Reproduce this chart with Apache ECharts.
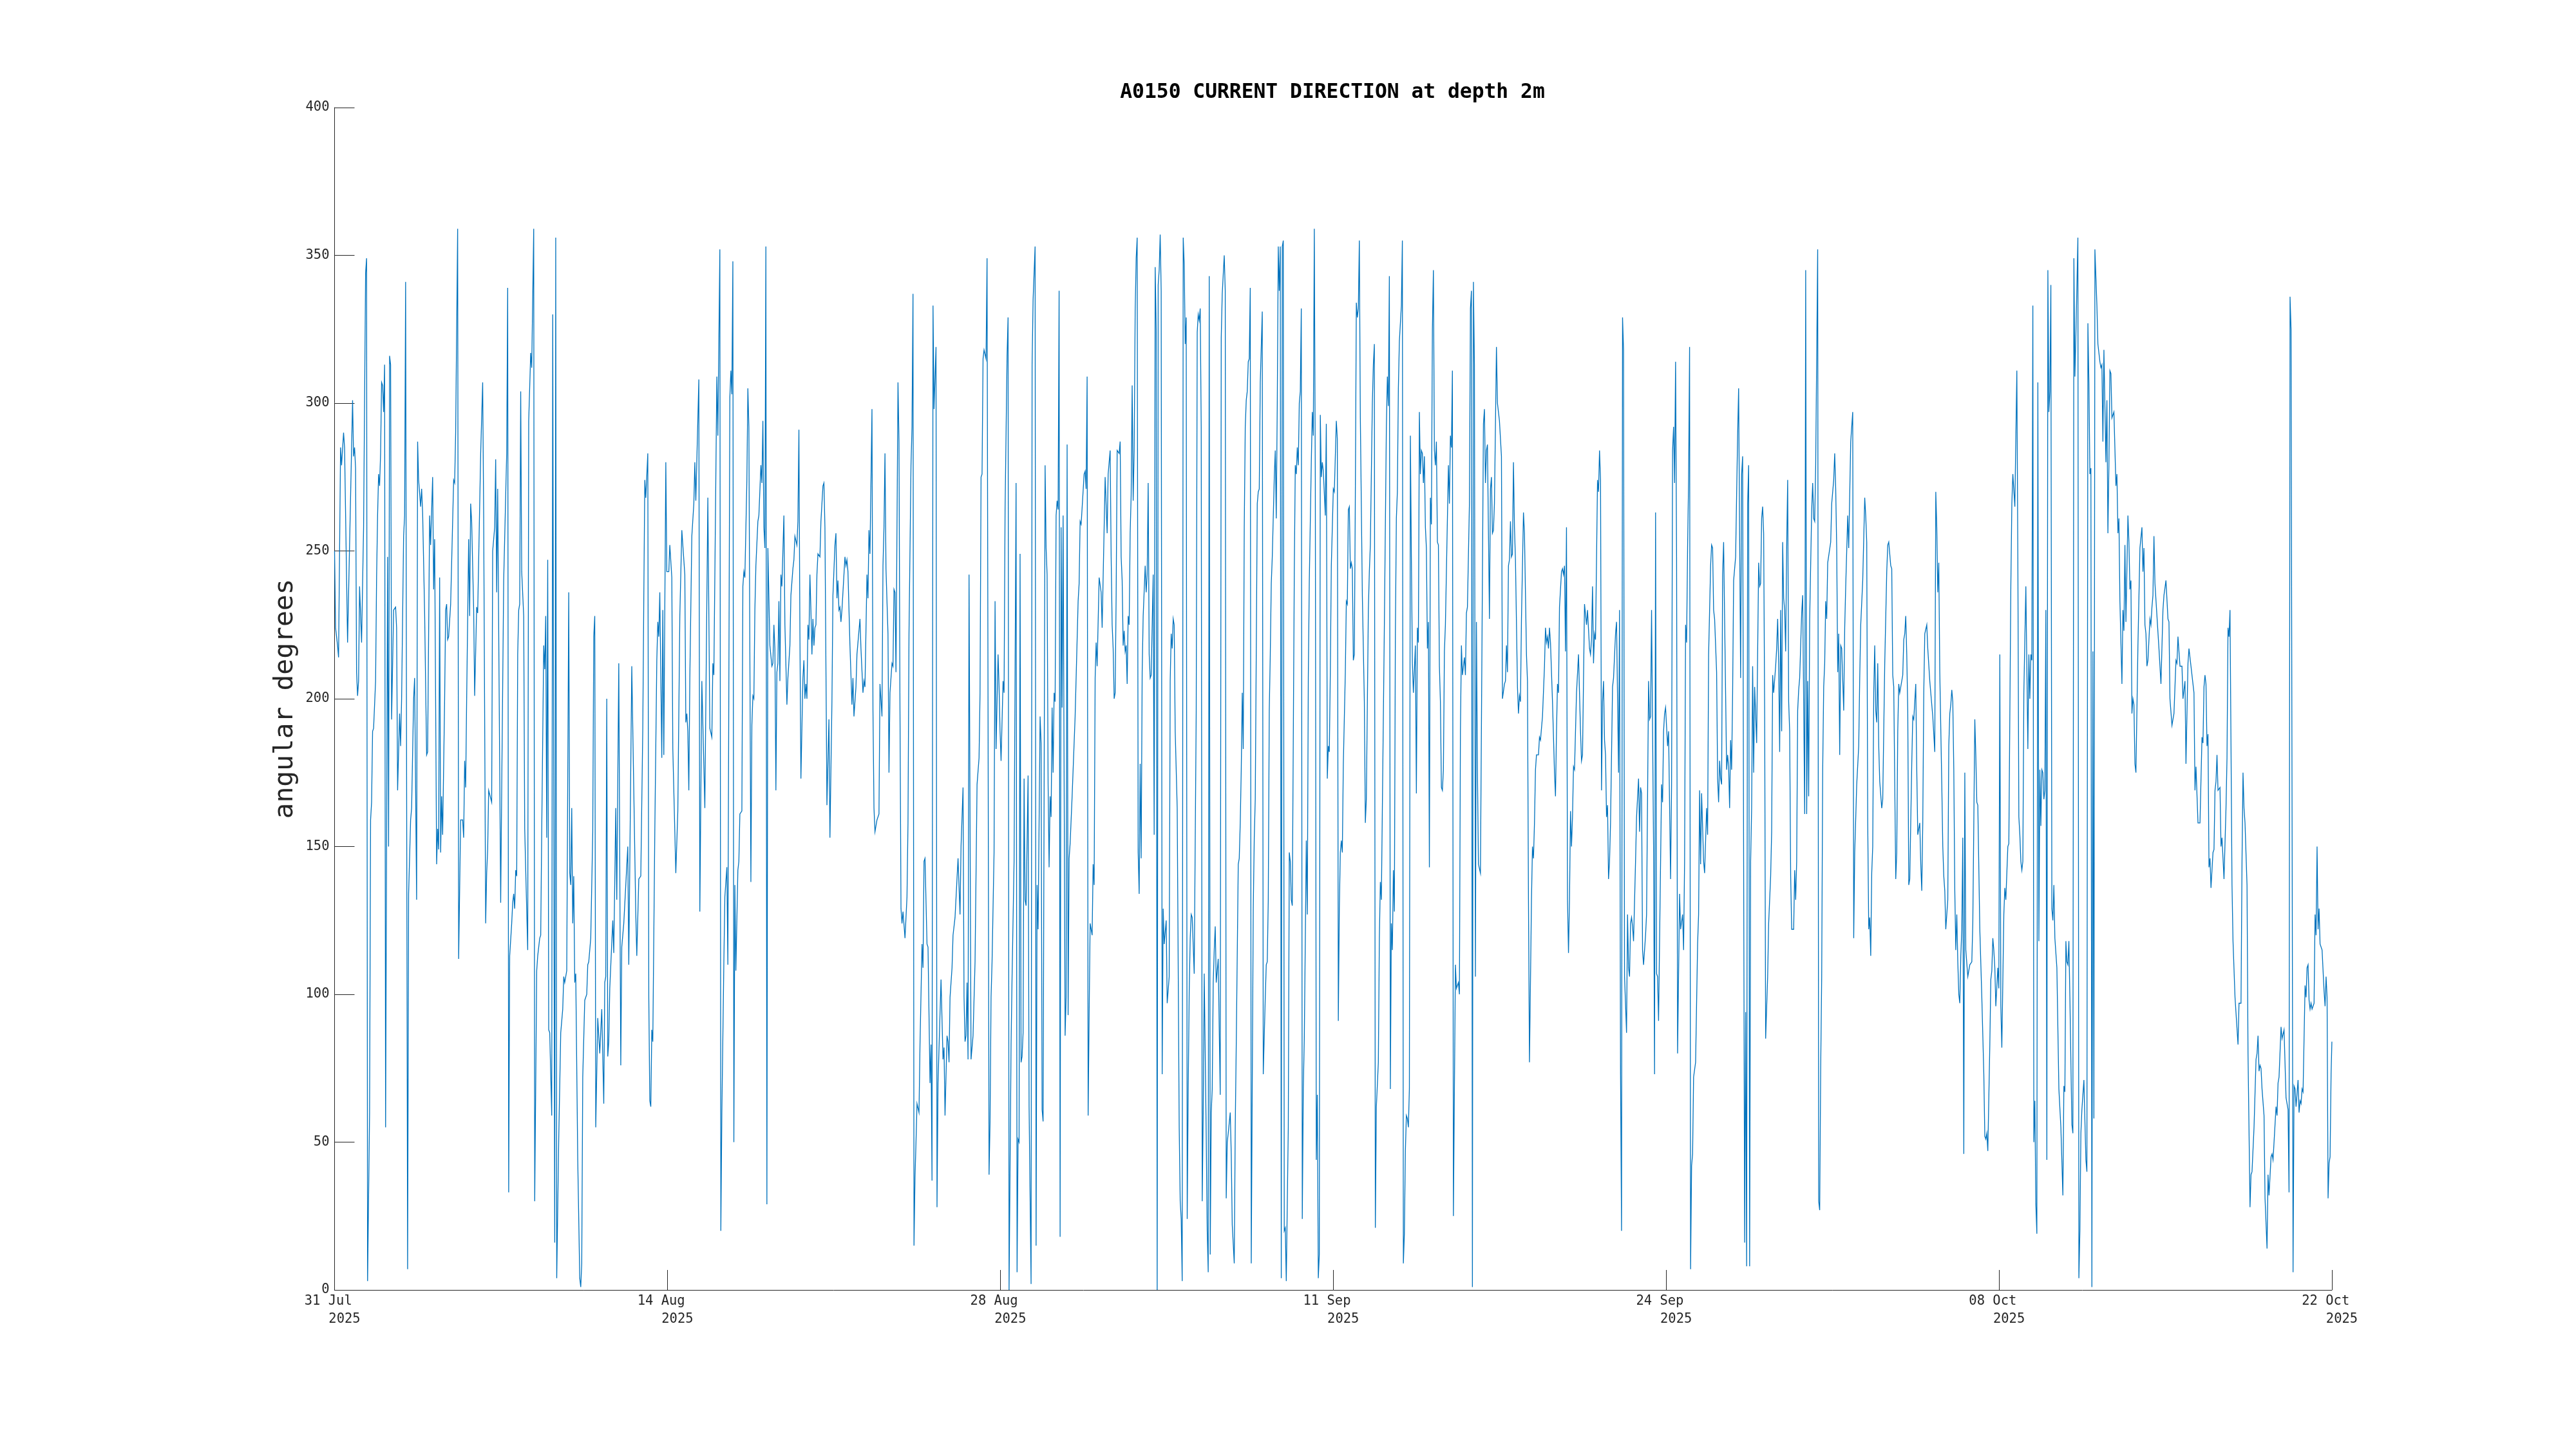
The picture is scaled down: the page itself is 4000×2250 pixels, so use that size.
<!DOCTYPE html>
<html>
<head>
<meta charset="utf-8">
<style>html,body{margin:0;padding:0;background:#fff}#c{width:4000px;height:2250px}</style>
<script src="https://cdn.jsdelivr.net/npm/echarts@6/dist/echarts.min.js"></script>
</head>
<body>
<div id="c"></div>
<script>
// Current direction readings as [hours since axis start, degrees]
const periodA = [[0,250],[1,224],[3,218],[4,214],[6,285],[7,279],[9,290],[10,285],[13,219],[18,301],[19,282],[20,285],[21,278],[22,209],[23,201],[24,206],[25,238],[27,219],[29,258],[31,344],[32,349],[33,3],[35,60],[36,159],[37,165],[38,189],[39,190],[41,206],[42,241],[43,262],[44,276],[45,272],[46,283],[47,307],[48,306],[49,297],[50,313],[51,55],[53,248],[54,150],[55,316],[56,313],[57,193],[59,230],[61,231],[62,224],[63,169],[65,195],[66,184],[67,200],[69,255],[70,262],[71,341],[73,7],[74,134],[76,159],[77,163],[79,200],[80,207],[82,132],[83,287],[84,274],[86,265],[87,271],[88,263],[90,229],[92,181],[93,182],[95,262],[96,252],[98,275],[99,237],[100,254],[102,144],[103,156],[104,149],[105,241],[106,148],[107,167],[108,154],[110,200],[111,230],[112,232],[113,220],[114,221],[116,232],[119,274],[120,273],[121,290],[123,359],[124,112],[126,159],[128,159],[129,153],[130,179],[131,170],[132,200],[134,254],[135,228],[136,266],[137,260],[139,230],[140,201],[142,231],[143,229],[146,283],[148,307],[149,262],[151,124],[152,141],[153,149],[154,169],[155,169],[157,165],[158,250],[159,250],[160,258],[161,281],[162,236],[163,271],[166,131],[167,169],[169,240],[172,283],[173,339],[174,33],[175,113],[177,124],[178,131],[179,134],[180,129],[181,142],[182,140],[183,215],[184,230],[185,232],[186,304],[187,243],[189,228],[190,156],[193,115],[194,294],[196,317],[197,312],[199,359],[200,30],[202,108],[203,113],[205,119],[206,120],[207,155],[209,218],[210,210],[211,228],[212,153],[213,247],[214,88],[215,87],[217,59],[218,330],[219,167],[220,16],[221,356],[222,4],[224,51],[226,87],[228,95],[229,106],[230,104],[232,108],[234,236],[235,141],[236,137],[237,163],[238,124],[239,140],[240,104],[241,107],[243,44],[245,4],[246,1],[247,9],[248,72],[250,98],[252,100],[253,110],[254,111],[256,119],[257,119],[258,155],[259,221],[260,228],[261,55],[263,92],[265,80],[266,80],[267,95],[269,63],[270,104],[271,106],[272,200],[273,79],[274,84],[275,102],[278,125],[279,114],[281,163],[282,132],[284,212],[286,76],[287,116],[288,116],[289,124],[290,124],[293,150],[294,110],[297,211],[299,169],[301,127],[302,113],[304,139],[306,140],[308,190],[309,234],[310,274],[311,268],[313,283],[314,99],[315,64],[316,62],[317,88],[318,84],[320,155],[322,213],[323,226],[324,221],[325,236],[327,180],[328,230],[329,181],[331,280],[332,243],[334,243],[335,252],[337,241],[338,183],[341,141],[343,162],[345,228],[347,257],[348,257],[350,242],[351,192],[352,195],[353,189],[354,169],[355,207],[357,255],[359,266],[360,280],[361,267],[364,308],[365,128],[367,206],[370,163],[373,268],[375,190],[377,187],[378,212],[379,208],[382,309],[383,289],[385,352]];
const periodB = [[386,20],[387,60],[389,111],[390,133],[392,143],[393,110],[395,302],[396,311],[397,303],[398,348],[399,50],[400,137],[401,108],[403,142],[404,145],[405,161],[407,162],[408,238],[409,243],[410,241],[412,274],[413,305],[414,292],[416,138],[417,191],[418,201],[419,200],[420,230],[421,245],[423,260],[424,262],[425,262],[426,279],[427,273],[428,294],[429,258],[430,251],[431,353],[432,29],[433,251],[435,218],[437,211],[438,212],[439,225],[440,217],[441,169],[442,209],[443,212],[444,233],[445,206],[446,242],[447,238],[449,262],[450,225],[452,198],[453,207],[455,218],[456,235],[458,244],[459,247],[460,255],[462,252],[463,260],[464,291],[465,222],[466,173],[468,207],[469,213],[470,200],[471,205],[472,200],[473,225],[474,220],[475,242],[476,230],[477,215],[478,227],[479,218],[480,224],[481,225],[482,242],[483,249],[485,248],[486,260],[488,272],[489,273],[490,258],[492,164],[494,193],[495,153],[497,199],[498,235],[500,252],[501,256],[502,234],[503,240],[504,230],[505,231],[506,226],[507,230],[510,248],[511,245],[512,247],[513,243],[515,218],[517,198],[518,207],[519,194],[521,204],[522,215],[525,227],[526,217],[527,217],[528,202],[529,206],[530,204],[532,242],[533,234],[534,257],[535,249],[537,298],[538,196],[539,163],[540,155],[542,159],[543,159],[544,161],[545,205],[547,194],[548,245],[549,258],[550,283],[551,244],[553,222],[554,175],[555,202],[557,212],[558,211],[559,237],[560,236],[561,209],[563,307],[564,287],[565,196],[566,129],[567,124],[568,128],[570,119],[572,133],[573,158],[574,222],[576,279],[577,292],[578,337],[579,15]];
const periodC = [[580,38],[581,50],[582,63],[584,60],[585,83],[587,117],[588,109],[589,145],[590,146],[592,117],[593,116],[595,70],[596,83],[597,37],[598,333],[599,298],[601,319],[602,28],[603,70],[606,105],[608,78],[609,82],[610,59],[612,86],[613,84],[614,77],[615,99],[617,109],[618,120],[619,120],[620,126],[623,146],[625,127],[626,150],[628,170],[629,99],[630,84],[631,86],[632,104],[633,78],[634,242],[636,78],[638,86],[640,111],[641,111],[642,171],[644,180],[645,202],[646,275],[647,276],[648,315],[649,318],[651,315],[652,349],[654,39],[655,57],[656,99],[657,111],[659,148],[660,233],[661,183],[663,215],[664,204],[665,189],[666,179],[668,206],[669,202],[670,264],[672,316],[673,329],[674,0],[676,83],[677,106],[678,106],[679,145],[681,273],[682,6],[683,51],[684,50],[685,249],[686,77],[687,79],[688,87],[689,173],[690,132],[691,130],[693,174],[694,62],[696,2],[697,313],[698,335],[700,353],[701,15],[702,137],[703,122],[705,194],[706,185],[707,61],[708,57],[710,279],[711,251],[712,242],[713,171],[714,143],[715,167],[716,160],[717,197],[718,175],[719,202],[720,199],[721,262],[722,267],[723,264],[724,338],[725,18],[726,258],[727,197],[728,262],[730,86],[731,99],[732,286],[733,93],[734,146],[735,151],[737,167],[740,194],[741,207],[743,233],[744,239],[745,260],[746,259],[749,276],[750,277],[751,271],[752,309],[753,59],[754,93],[755,124],[756,124],[757,120],[758,144],[759,137],[760,207],[761,219],[762,211],[764,241],[766,236],[767,224],[769,258],[770,275],[772,256],[773,276]];
const periodD = [[775,284],[776,248],[777,225],[778,217],[779,200],[780,202],[781,235],[782,284],[784,283],[785,287],[786,248],[787,240],[788,218],[789,223],[790,216],[791,218],[792,205],[793,228],[794,225],[795,256],[796,269],[797,306],[798,267],[799,284],[800,331],[801,349],[802,356],[803,148],[804,134],[805,178],[806,146],[807,209],[808,228],[809,228],[810,245],[811,236],[812,242],[813,273],[814,215],[815,207],[816,208],[818,242],[819,154],[820,346],[821,325],[822,0],[823,340],[824,345],[825,357],[826,338],[827,73],[828,129],[829,117],[831,125],[832,97],[834,106],[835,206],[836,222],[837,217],[838,227],[839,225],[840,189],[842,163],[844,55],[845,30],[846,24],[847,3],[848,356],[849,347],[850,320],[851,329],[852,24],[853,68],[854,101],[855,119],[856,127],[857,126],[859,107],[860,107],[861,196],[862,324],[863,330],[864,328],[865,332],[866,292],[867,30],[868,60],[869,107],[870,80],[871,52],[872,20],[873,6],[874,343],[875,12],[876,60],[877,68],[878,104],[879,115],[880,123],[881,104],[883,112],[884,88],[885,66],[886,322],[887,337],[889,350],[890,338],[891,31],[892,50],[893,53],[894,53],[895,60],[896,46],[897,22],[899,9],[900,55],[901,83],[903,144],[904,146],[905,158],[906,176],[907,202],[908,183],[909,258],[910,292],[911,301],[912,304],[913,314],[914,315],[915,339],[916,9],[918,129],[919,153],[920,166],[922,266],[923,270],[924,271],[925,307],[927,331],[928,73],[929,73],[930,99],[931,110],[932,111],[933,132],[934,196],[935,215],[936,239],[937,248],[939,275],[940,284],[941,261],[942,300],[943,353],[944,338],[945,353],[946,4],[947,353],[948,355],[949,20],[950,21],[951,3],[953,55],[954,148],[955,145],[956,132],[957,130],[958,130],[959,243],[960,279],[961,276],[962,285],[963,279],[964,300],[965,304],[966,332]];
const periodE = [[967,24],[968,68],[969,85],[970,85],[971,152],[972,127],[973,207],[974,240],[976,280],[977,297],[978,289],[979,359],[980,274],[981,44],[982,66],[983,4],[984,12],[985,296],[986,275],[987,280],[988,277],[989,277],[990,262],[991,293],[992,173],[993,184],[994,182],[995,209],[996,245],[998,271],[999,270],[1000,270],[1001,294],[1002,288],[1003,91],[1004,129],[1005,148],[1006,152],[1007,148],[1008,178],[1010,209],[1011,233],[1012,232],[1013,264],[1014,265],[1015,244],[1016,246],[1017,244],[1018,213],[1019,215],[1020,269],[1021,334],[1022,329],[1023,332],[1024,355],[1025,295],[1027,235],[1029,199],[1030,158],[1031,166],[1033,230],[1034,243],[1035,252],[1037,300],[1038,313],[1039,320],[1040,21],[1041,62],[1043,77],[1044,119],[1045,138],[1046,132],[1047,163],[1049,225],[1051,292],[1052,309],[1053,299],[1054,343],[1055,68],[1056,124],[1057,115],[1058,142],[1059,128],[1060,222],[1061,261],[1062,270],[1063,305],[1064,321],[1066,333],[1067,355],[1068,9],[1069,19],[1070,47],[1071,59],[1072,58],[1073,55],[1074,68],[1075,289],[1076,248],[1077,212],[1078,202],[1080,218],[1081,168],[1082,224],[1083,219],[1084,297],[1085,276],[1086,284],[1087,283],[1088,273],[1089,282],[1090,258],[1091,251],[1092,217],[1093,226],[1094,143],[1095,268],[1096,259],[1097,325],[1098,345],[1099,284],[1100,279],[1101,287],[1102,253],[1103,252],[1104,211],[1105,199],[1106,170],[1107,169],[1108,176],[1109,216],[1110,225],[1113,279],[1114,266],[1115,289],[1116,285],[1117,311],[1118,25],[1119,68],[1120,110],[1121,102],[1122,102],[1123,104],[1124,100],[1125,189],[1126,218],[1127,208],[1129,214],[1130,208],[1131,229],[1132,231],[1134,266],[1135,332],[1136,338],[1137,1],[1138,341],[1139,313],[1140,106],[1141,226],[1142,176],[1143,144],[1145,141],[1146,191],[1148,293],[1149,298],[1150,273],[1151,284],[1152,286],[1154,227],[1155,271],[1156,275],[1157,256],[1158,257],[1159,266]];
const periodF = [[1161,319],[1162,300],[1163,300],[1164,294],[1165,294],[1166,282],[1167,200],[1168,200],[1169,205],[1170,206],[1171,218],[1172,209],[1173,245],[1174,247],[1175,260],[1176,248],[1177,249],[1178,280],[1179,258],[1180,247],[1181,247],[1182,204],[1183,195],[1184,201],[1185,199],[1186,227],[1188,263],[1189,256],[1191,215],[1192,206],[1193,132],[1194,77],[1196,132],[1197,150],[1198,146],[1199,158],[1200,176],[1201,181],[1203,181],[1204,187],[1205,186],[1207,194],[1209,211],[1210,224],[1211,219],[1212,221],[1213,217],[1214,224],[1215,219],[1217,199],[1219,175],[1220,167],[1221,189],[1222,205],[1223,202],[1224,231],[1226,243],[1227,244],[1228,242],[1229,245],[1230,216],[1231,258],[1232,132],[1233,114],[1234,132],[1235,162],[1236,150],[1237,160],[1238,177],[1239,176],[1241,202],[1243,215],[1245,189],[1246,179],[1247,181],[1249,232],[1250,232],[1251,225],[1252,230],[1254,217],[1255,215],[1256,220],[1257,238],[1258,212],[1259,222],[1260,220],[1262,274],[1263,270],[1264,284],[1265,274],[1266,169],[1267,199],[1268,206],[1269,186],[1270,181],[1271,160],[1272,164],[1273,139],[1274,145],[1275,158],[1277,204],[1278,207],[1280,222],[1281,226],[1283,175],[1284,230],[1285,73],[1286,20],[1287,329],[1288,318],[1289,106],[1290,106],[1291,87],[1292,127],[1293,109],[1294,106],[1295,124],[1296,126],[1297,123],[1298,118],[1300,145],[1301,160],[1303,173],[1304,155],[1305,170],[1306,168],[1307,115],[1308,110],[1310,120],[1311,127],[1313,206],[1314,193],[1315,194],[1316,230],[1318,150],[1319,73],[1320,263],[1321,107],[1322,106],[1323,91],[1326,171],[1327,165],[1328,189],[1329,195],[1330,197],[1331,197],[1332,184],[1333,189],[1335,139],[1336,171],[1337,284],[1338,292],[1339,273],[1340,314],[1341,248],[1342,80],[1344,134],[1345,122],[1347,127],[1348,115],[1349,145],[1350,225],[1351,219],[1352,251]];
const periodG = [[1353,274],[1354,319],[1355,7],[1356,42],[1357,46],[1358,72],[1359,72],[1360,77],[1362,117],[1363,127],[1364,169],[1365,144],[1366,168],[1368,145],[1369,141],[1371,163],[1372,154],[1373,215],[1375,245],[1376,252],[1377,251],[1378,230],[1379,227],[1381,209],[1382,173],[1383,165],[1384,179],[1385,173],[1386,171],[1387,242],[1388,253],[1389,227],[1391,176],[1392,181],[1393,177],[1394,163],[1395,186],[1396,176],[1397,202],[1398,240],[1400,248],[1401,269],[1402,289],[1403,305],[1404,255],[1405,207],[1406,276],[1407,282],[1408,145],[1409,16],[1410,94],[1411,8],[1412,266],[1413,279],[1414,8],[1415,145],[1416,163],[1417,211],[1418,175],[1419,204],[1421,185],[1423,246],[1424,238],[1425,239],[1426,261],[1427,265],[1428,256],[1429,196],[1430,85],[1432,106],[1433,124],[1435,140],[1436,155],[1437,208],[1438,202],[1440,211],[1441,217],[1442,227],[1443,212],[1444,182],[1445,230],[1446,189],[1447,253],[1448,234],[1449,230],[1450,216],[1451,251],[1452,274],[1453,199],[1454,189],[1455,140],[1456,122],[1458,122],[1459,142],[1460,132],[1461,145],[1462,196],[1463,203],[1464,207],[1465,218],[1466,229],[1467,235],[1469,161],[1470,345],[1471,161],[1472,206],[1473,167],[1474,227],[1476,264],[1477,273],[1478,261],[1479,260],[1480,279],[1482,352],[1483,30],[1484,27],[1485,75],[1486,106],[1487,176],[1488,204],[1489,212],[1490,233],[1491,227],[1492,246],[1493,246],[1495,253],[1496,266],[1498,274],[1499,283],[1500,271],[1501,251],[1502,209],[1503,222],[1504,181],[1505,218],[1506,217],[1508,196],[1509,224],[1510,238],[1512,262],[1513,251],[1515,287],[1517,297],[1518,119],[1519,148],[1521,171],[1523,184],[1524,207],[1525,225],[1527,240],[1529,268],[1530,262],[1531,253],[1532,158],[1533,122],[1534,126],[1535,113],[1536,141],[1537,150],[1538,202],[1539,218],[1540,196],[1541,192],[1542,212],[1543,184],[1544,172]];
const periodH = [[1546,163],[1547,166],[1549,212],[1551,243],[1552,252],[1553,253],[1555,245],[1556,244],[1557,208],[1558,204],[1560,139],[1561,148],[1562,189],[1563,205],[1564,202],[1567,208],[1568,220],[1569,222],[1570,228],[1571,215],[1572,196],[1573,137],[1574,139],[1576,178],[1577,194],[1578,193],[1580,205],[1581,176],[1582,154],[1583,156],[1584,158],[1585,144],[1586,135],[1587,158],[1588,202],[1589,222],[1590,222],[1591,225],[1592,217],[1594,206],[1595,206],[1596,198],[1597,194],[1599,182],[1600,270],[1601,258],[1602,236],[1603,246],[1604,209],[1606,171],[1607,150],[1608,140],[1609,135],[1610,122],[1611,122],[1612,132],[1613,184],[1614,195],[1615,198],[1616,203],[1617,199],[1618,176],[1619,135],[1620,115],[1621,127],[1622,111],[1623,100],[1624,97],[1625,113],[1626,122],[1627,153],[1628,46],[1629,175],[1630,115],[1632,106],[1634,110],[1636,111],[1637,124],[1638,158],[1639,193],[1640,181],[1641,165],[1642,164],[1644,122],[1646,99],[1648,73],[1649,52],[1650,51],[1651,53],[1652,47],[1654,83],[1655,105],[1656,108],[1657,119],[1658,115],[1659,109],[1660,96],[1662,109],[1663,102],[1664,215],[1665,96],[1666,82],[1668,127],[1669,136],[1670,132],[1672,150],[1673,151],[1675,238],[1676,266],[1677,276],[1679,265],[1681,311],[1682,248],[1683,160],[1684,154],[1685,145],[1686,142],[1687,145],[1688,202],[1690,238],[1692,183],[1693,215],[1694,200],[1695,215],[1696,213],[1697,333],[1698,50],[1699,64],[1700,29],[1701,19],[1702,307],[1703,118],[1704,176],[1705,157],[1706,176],[1707,175],[1708,166],[1709,169],[1710,230],[1711,44],[1712,345],[1713,297],[1714,304],[1715,340],[1716,129],[1717,125],[1718,137],[1719,119],[1721,109],[1723,68],[1725,55],[1727,32],[1728,69],[1729,67],[1730,118],[1731,111],[1732,110],[1733,118],[1734,99],[1736,56],[1737,53]];
const periodI = [[1738,349],[1739,309],[1740,323],[1741,323],[1742,356],[1743,4],[1744,20],[1745,53],[1746,61],[1748,71],[1750,44],[1751,40],[1752,327],[1753,307],[1754,276],[1755,278],[1756,1],[1757,216],[1758,58],[1759,352],[1760,352],[1761,333],[1762,320],[1764,314],[1765,312],[1766,313],[1767,287],[1768,318],[1770,280],[1771,301],[1772,256],[1773,279],[1774,311],[1775,310],[1776,295],[1778,297],[1780,272],[1781,276],[1782,256],[1783,261],[1784,233],[1786,205],[1787,230],[1788,223],[1789,252],[1790,226],[1792,262],[1793,253],[1794,237],[1795,240],[1796,195],[1797,200],[1798,198],[1799,178],[1800,175],[1802,218],[1804,251],[1805,251],[1806,258],[1807,243],[1808,251],[1809,225],[1810,222],[1811,211],[1812,213],[1814,227],[1815,225],[1816,231],[1817,235],[1818,255],[1819,239],[1820,239],[1823,217],[1825,205],[1827,230],[1828,235],[1830,240],[1832,227],[1833,226],[1834,200],[1836,191],[1838,195],[1840,213],[1841,212],[1842,221],[1844,211],[1846,211],[1847,200],[1849,206],[1850,178],[1852,212],[1853,217],[1855,211],[1856,211],[1858,202],[1859,169],[1860,177],[1862,158],[1864,158],[1866,187],[1867,185],[1868,204],[1869,208],[1870,205],[1871,184],[1872,188],[1873,143],[1874,146],[1875,136],[1876,136],[1877,148],[1878,149],[1879,169],[1880,172],[1881,181],[1882,169],[1884,170],[1885,150],[1886,153],[1888,139],[1890,163],[1891,180],[1892,224],[1893,221],[1894,230],[1895,184],[1896,137],[1897,118],[1899,99],[1902,83],[1903,97],[1905,97],[1906,145],[1907,175],[1908,163],[1909,158],[1911,137],[1912,80],[1914,28],[1915,39],[1916,40],[1918,55],[1920,78],[1921,80],[1922,86],[1923,74],[1924,76],[1925,75],[1926,68],[1927,68],[1928,59],[1929,31],[1931,14],[1932,39],[1933,32],[1935,45],[1936,46],[1937,44],[1940,62],[1941,59],[1942,70],[1943,72],[1945,89],[1946,85],[1947,85],[1948,88],[1950,65],[1952,61],[1953,33],[1954,336],[1955,325],[1957,6],[1958,69],[1959,68],[1960,62],[1962,71],[1963,60],[1964,64],[1965,63],[1966,68],[1967,67],[1969,103],[1970,99],[1971,109],[1972,110],[1973,98],[1974,95],[1975,97],[1976,95],[1977,95],[1978,97],[1979,127],[1980,120],[1981,150],[1982,122],[1983,129],[1984,117],[1986,115],[1988,101],[1989,96],[1990,106],[1991,99],[1992,31],[1993,43],[1994,45],[1995,73],[1995.8,84]];

const dateLabels = ['31 Jul','14 Aug','28 Aug','11 Sep','24 Sep','08 Oct','22 Oct'];
const yearLabel = '2025';
const hoursPerTick = 332.64;
const yTicks = [0,50,100,150,200,250,300,350,400];

const series = [].concat(periodA,periodB,periodC,periodD,periodE,periodF,periodG,periodH,periodI);
const MONO = '"DejaVu Sans Mono", monospace';
const INK = '#262626';
const tickFont = 20.5;

const chart = echarts.init(document.getElementById('c'), null, {renderer:'canvas'});
chart.setOption({
  animation:false,
  backgroundColor:'#fff',
  title:{
    text:'A0150 CURRENT DIRECTION at depth 2m',
    left:2064, top:123, textAlign:'center',
    textStyle:{fontFamily:MONO,fontSize:31.3,fontWeight:'bold',color:'#000'}
  },
  grid:{left:519.5,right:379,top:167,bottom:247,containLabel:false},
  xAxis:{
    type:'value',min:0,max:hoursPerTick*6,interval:hoursPerTick,
    splitLine:{show:false},
    axisLine:{show:true,onZero:false,lineStyle:{color:INK,width:1}},
    axisTick:{show:true,inside:true,length:31,lineStyle:{color:INK,width:1}},
    axisLabel:{
      show:true,margin:4,color:INK,
      showMinLabel:true,showMaxLabel:true,hideOverlap:false,
      formatter:function(v){
        const i=Math.round(v/hoursPerTick);
        return '{d|'+dateLabels[i]+'}\n{y|'+yearLabel+'}';
      },
      rich:{
        d:{fontFamily:MONO,fontSize:tickFont,color:INK,lineHeight:27.5,padding:[0,19.5,0,0]},
        y:{fontFamily:MONO,fontSize:tickFont,color:INK,lineHeight:27.5,padding:[0,0,0,31]}
      }
    }
  },
  yAxis:{
    type:'value',min:yTicks[0],max:yTicks[yTicks.length-1],interval:50,
    name:'angular degrees',nameLocation:'middle',nameGap:48,
    nameTextStyle:{fontFamily:MONO,fontSize:41.3,color:INK},
    splitLine:{show:false},
    axisLine:{show:true,lineStyle:{color:INK,width:1}},
    axisTick:{show:true,inside:true,length:31,lineStyle:{color:INK,width:1}},
    axisLabel:{show:true,margin:8,fontFamily:MONO,fontSize:tickFont,color:INK,showMinLabel:true,showMaxLabel:true}
  },
  series:[{
    type:'line',data:series,showSymbol:false,symbol:'none',smooth:false,clip:false,
    lineStyle:{color:'#0072BD',width:1.3,join:'miter'},
    sampling:null,progressive:0
  }]
});
</script>
</body>
</html>
